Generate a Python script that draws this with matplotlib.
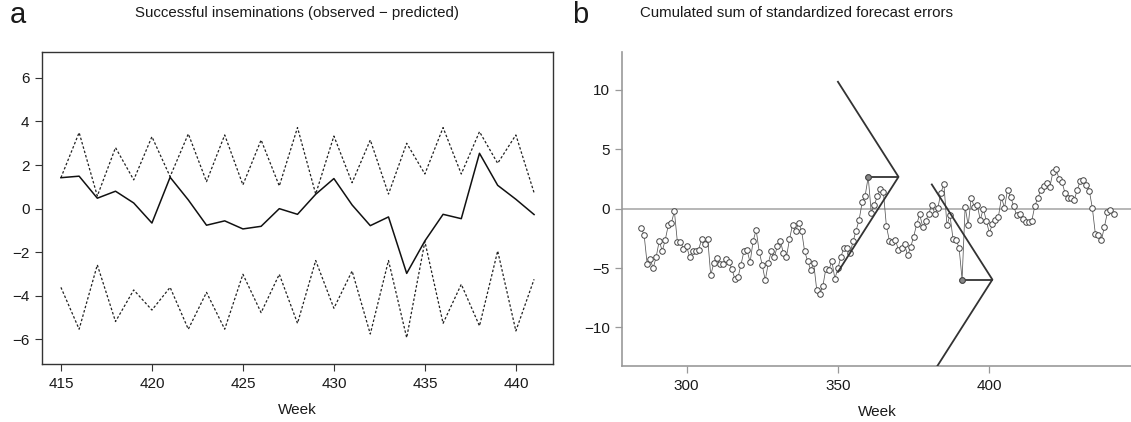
import numpy as np
import matplotlib
matplotlib.use("Agg")
import matplotlib.pyplot as plt

plt.rcParams['font.family'] = ['Liberation Sans', 'DejaVu Sans']

# panel a: weekly successful inseminations, observed minus predicted
weeks_a = np.arange(415, 442)
obs_minus_pred = [1.42, 1.49, 0.48, 0.80, 0.26, -0.66, 1.44, 0.40, -0.76, -0.56,
                  -0.93, -0.81, 0.00, -0.26, 0.66, 1.38, 0.17, -0.78, -0.38, -2.97,
                  -1.48, -0.26, -0.46, 2.54, 1.07, 0.43, -0.27]
upper_limit = [1.42, 3.49, 0.58, 2.80, 1.32, 3.30, 1.47, 3.43, 1.24, 3.38,
               1.09, 3.15, 1.04, 3.72, 0.67, 3.33, 1.19, 3.15, 0.67, 3.00,
               1.59, 3.72, 1.59, 3.53, 2.08, 3.38, 0.73]
lower_limit = [-3.61, -5.53, -2.58, -5.18, -3.73, -4.65, -3.61, -5.53, -3.84, -5.53,
               -3.01, -4.77, -3.01, -5.26, -2.38, -4.57, -2.86, -5.75, -2.38, -5.92,
               -1.51, -5.26, -3.47, -5.38, -1.94, -5.61, -3.24]

# panel b: cumulated sum of standardized forecast errors
weeks_b = np.arange(285, 442)
cusum = [-1.60, -2.21, -4.63, -4.27, -5.00, -4.05, -2.71, -3.57, -2.60, -1.38,
         -1.19, -0.23, -2.84, -2.77, -3.38, -3.13, -4.05, -3.58, -3.57, -3.44,
         -2.58, -2.97, -2.52, -5.61, -4.59, -4.15, -4.66, -4.68, -4.21, -4.49,
         -5.08, -5.95, -5.78, -4.71, -3.54, -3.51, -4.52, -2.72, -1.79, -3.62,
         -4.74, -6.03, -4.60, -3.59, -4.07, -3.17, -2.72, -3.76, -4.07, -2.58,
         -1.37, -1.91, -1.20, -1.85, -3.60, -4.40, -5.15, -4.60, -6.84, -7.18,
         -6.55, -5.08, -5.16, -4.42, -5.90, -5.00, -4.04, -3.28, -3.28, -3.76,
         -2.76, -1.85, -0.93, 0.52, 1.10, 2.67, -0.33, 0.31, 1.02, 1.65,
         1.42, -1.46, -2.72, -2.78, -2.66, -3.48, -3.34, -3.00, -3.93, -3.26,
         -2.36, -1.32, -0.48, -1.54, -1.04, -0.42, 0.31, -0.42, 0.06, 1.35,
         2.05, -1.40, -0.56, -2.55, -2.64, -3.28, -5.97, 0.17, -1.40, 0.90,
         0.17, 0.31, -0.95, 0.00, -1.01, -2.05, -1.32, -0.95, -0.67, 0.95,
         0.06, 1.60, 0.98, 0.25, -0.56, -0.45, -0.90, -1.09, -1.15, -1.04,
         0.22, 0.90, 1.57, 1.91, 2.19, 1.85, 3.09, 3.34, 2.52, 2.24,
         1.29, 0.87, 0.87, 0.70, 1.57, 2.30, 2.41, 1.99, 1.51, 0.06,
         -2.13, -2.21, -2.66, -1.51, -0.31, -0.11, -0.47]
vmask_weeks = [360, 391]   # points where a V-mask is laid
vmask_lead = 10            # distance from point to vertex (weeks)
vmask_arm = 20             # arm length (weeks)
vmask_rise = 8             # arm rise over the arm length

fig = plt.figure(figsize=(11.31, 4.22), dpi=100)

# ---------- panel a ----------
ax1 = fig.add_axes([42 / 1131, 57.7 / 422, 511 / 1131, 312.6 / 422])
ax1.plot(weeks_a, upper_limit, color='#222222', lw=0.9, ls=(0, (2, 1.6)))
ax1.plot(weeks_a, lower_limit, color='#222222', lw=0.9, ls=(0, (2, 1.6)))
ax1.plot(weeks_a, obs_minus_pred, color='#111111', lw=1.1)
ax1.set_xlim(413.96, 442.04)
ax1.set_ylim(-7.14, 7.2)
ax1.set_xticks([415, 420, 425, 430, 435, 440])
ax1.set_yticks([-6, -4, -2, 0, 2, 4, 6])
for s in ax1.spines.values():
    s.set_color('#333333')
    s.set_linewidth(1.0)
ax1.tick_params(length=5, width=0.8, color='#333333', labelsize=11,
                labelcolor='#1a1a1a', pad=4)
ax1.set_xlabel('Week', fontsize=11, color='#1a1a1a', labelpad=9)
fig.text(297 / 1131, 1 - 13 / 422, 'Successful inseminations (observed \u2212 predicted)',
         ha='center', va='center', fontsize=10.8, color='#1a1a1a')
fig.text(10 / 1131, 1 - 15 / 422, 'a', ha='left', va='center', fontsize=21,
         color='#1a1a1a')

# ---------- panel b ----------
ax2 = fig.add_axes([622.3 / 1131, 56 / 422, 510 / 1131, 314.3 / 422])
ax2.axhline(0, color='#aaaaaa', lw=1.2, zorder=1)
ax2.plot(weeks_b, cusum, color='#555555', lw=0.55, marker='o', ms=4.0, mew=0.7,
         mec='#444444', mfc='white', zorder=3)
cusum_arr = np.array(cusum)
for w in vmask_weeks:
    y = cusum_arr[weeks_b == w][0]
    vx = w + vmask_lead
    ax2.plot([w, vx], [y, y], color='#333333', lw=1.3, zorder=4)
    ax2.plot([vx - vmask_arm, vx, vx - vmask_arm],
             [y + vmask_rise, y, y - vmask_rise], color='#333333', lw=1.3, zorder=4)
    ax2.plot([w], [y], 'o', ms=4.0, mew=0.7, mec='#444444', mfc='#888888', zorder=5)
ax2.set_xlim(278.8, 447.2)
ax2.set_ylim(-13.24, 13.2)
ax2.set_xticks([300, 350, 400])
ax2.set_yticks([-10, -5, 0, 5, 10])
for side in ['top', 'right']:
    ax2.spines[side].set_visible(False)
for side in ['left', 'bottom']:
    ax2.spines[side].set_color('#999999')
    ax2.spines[side].set_linewidth(1.2)
ax2.tick_params(length=5, width=0.9, color='#999999', labelsize=11,
                labelcolor='#1a1a1a', pad=4)
ax2.set_xlabel('Week', fontsize=11, color='#1a1a1a', labelpad=9)
fig.text(797 / 1131, 1 - 13 / 422, 'Cumulated sum of standardized forecast errors',
         ha='center', va='center', fontsize=10.8, color='#1a1a1a')
fig.text(572 / 1131, 1 - 15 / 422, 'b', ha='left', va='center', fontsize=21,
         color='#1a1a1a')

fig.savefig('out.png', dpi=100, facecolor='white')
